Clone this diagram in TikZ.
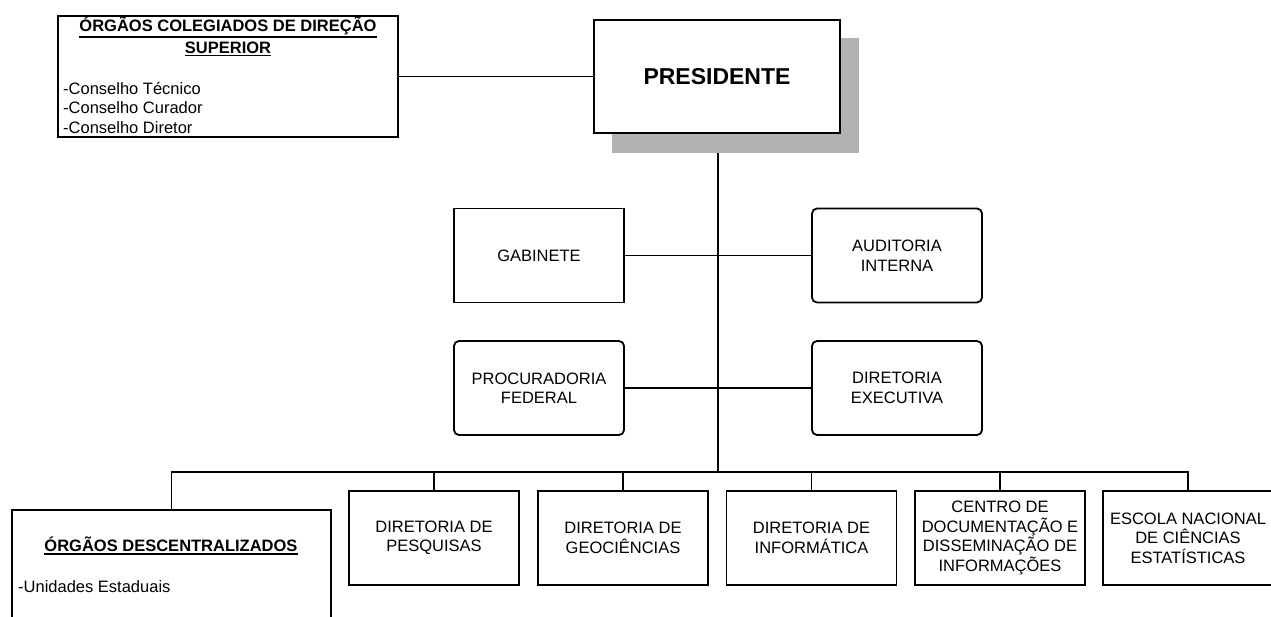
\documentclass[tikz,border=0pt]{standalone}
\usepackage{fontspec}
\setmainfont{Liberation Sans}
\newcommand{\sublinha}[1]{\setbox0\hbox{#1}\vtop{\copy0\kern1.2pt\hrule height 1.6pt width \wd0}}

\begin{document}
\begin{tikzpicture}[x=1pt,y=-1pt,
  caixa/.style={draw, line width=1.8pt, minimum width=170pt, minimum height=94pt, align=center, inner sep=0pt, font=\fontsize{16.5}{19.5}\selectfont},
  arred/.style={caixa, rounded corners=5pt},
  moldura/.style={draw, line width=1.8pt, inner sep=0pt},
  texto/.style={inner sep=0pt, font=\fontsize{16.5}{19.5}\selectfont},
  titulo/.style={inner sep=0pt, font=\fontsize{16.5}{19.5}\selectfont\bfseries},
  sombra/.style={fill=black!30, minimum width=247pt, minimum height=115pt, inner sep=0pt},
  ligacao/.style={line width=1.8pt}]
\useasboundingbox (0,0) rectangle (1271,616);

\node[moldura, minimum width=340pt, minimum height=121pt] (colegiado) at (228,76.5) {};
\node[titulo, anchor=base] (tcol1) at (228,31.7) {\sublinha{ÓRGÃOS COLEGIADOS DE DIREÇÃO}};
\node[titulo, anchor=base] (tcol2) at (228,53.3) {\sublinha{SUPERIOR}};
\node[texto, anchor=base west, align=left] (conselhos) at (63,133) {-Conselho Técnico\\-Conselho Curador\\-Conselho Diretor};

\node[sombra] (presombra) at (735.5,95.5) {};
\node[caixa, minimum width=246pt, minimum height=113pt, fill=white, font=\fontsize{23}{27}\selectfont\bfseries] (pres) at (717,76.5) {PRESIDENTE};

\node[caixa] (gab) at (539,255.5) {GABINETE};
\node[arred] (aud) at (897,255.5) {AUDITORIA\\INTERNA};
\node[arred] (proc) at (539,388) {PROCURADORIA\\FEDERAL};
\node[arred] (exec) at (897,388) {DIRETORIA\\EXECUTIVA};

\node[moldura, minimum width=319pt, minimum height=130pt] (desc) at (171.5,575) {};
\node[titulo, anchor=base] (tdesc) at (171,551.7) {\sublinha{ÓRGÃOS DESCENTRALIZADOS}};
\node[texto, anchor=base west] (unidades) at (18,592) {-Unidades Estaduais};

\node[caixa] (pesq) at (434,538) {DIRETORIA DE\\PESQUISAS};
\node[caixa] (geo) at (623,538) {DIRETORIA DE\\GEOCIÊNCIAS};
\node[caixa] (info) at (811.5,538) {DIRETORIA DE\\INFORMÁTICA};
\node[caixa] (cdoc) at (1000,538) {CENTRO DE\\DOCUMENTAÇÃO E\\DISSEMINAÇÃO DE\\INFORMAÇÕES};
\node[caixa] (escola) at (1188,538) {ESCOLA NACIONAL\\DE CIÊNCIAS\\ESTATÍSTICAS};

\coordinate (barra) at (718,472);

\draw[ligacao] (colegiado.east) -- (pres.west) (gab) -- (aud) (proc) -- (exec);
\draw[ligacao] (presombra.south -| barra) -- (barra);
\draw[ligacao] (desc.north) |- (barra) -| (escola.north);
\foreach \n in {pesq,geo,info,cdoc}
  \draw[ligacao] (\n.north) -- (\n.north |- barra);
\end{tikzpicture}
\end{document}
